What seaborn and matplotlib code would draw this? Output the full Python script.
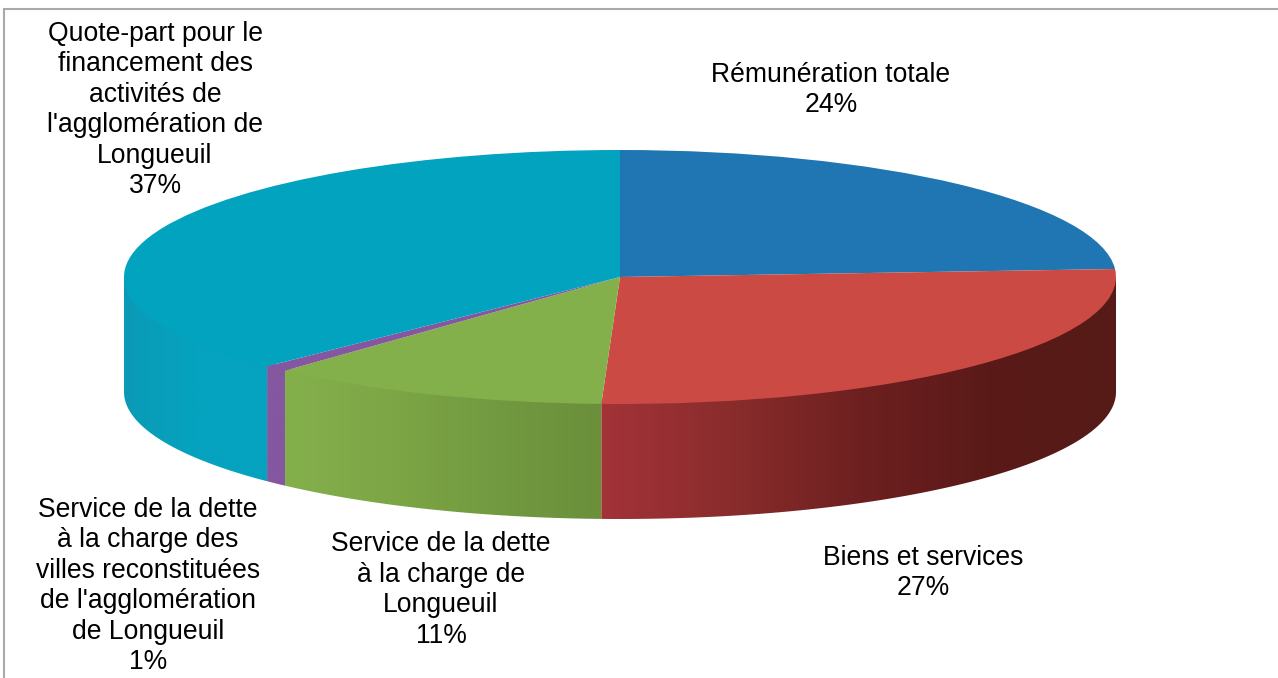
import numpy as np
import seaborn as sns
import matplotlib.pyplot as plt
from matplotlib.lines import Line2D
from matplotlib.patches import Polygon

# slices, clockwise from 12 o'clock
labels = ["Rémunération totale\n24%",
          "Biens et services\n27%",
          "Service de la dette\nà la charge de\nLongueuil\n11%",
          "Service de la dette\nà la charge des\nvilles reconstituées\nde l'agglomération\nde Longueuil\n1%",
          "Quote-part pour le\nfinancement des\nactivités de\nl'agglomération de\nLongueuil\n37%"]
values = [24, 26.6, 11.2, 0.8, 37.4]  # read from the slice edges, labels are rounded
top_colors = ["#2076B3", "#CB4A43", "#84B04C", "#8457A0", "#02A3BF"]
# side wall shading of each slice, left to right on screen
wall_colors = [["#2076B3", "#2076B3"],
               ["#A33338", "#8A2C2C", "#6E2020", "#5A1A18", "#561A17"],
               ["#84B04C", "#7DA646", "#729A40", "#6B8F3B"],
               ["#8457A0", "#8457A0"],
               ["#0B9AB6", "#05A3BF", "#05A3BF"]]
label_x = [831, 923, 441, 148, 155]
label_y = [90, 573, 590, 586, 110]

W, H = 1278, 678
cx, cy, rx, ry, depth = 620, 277, 496, 127, 115

sns.set_theme(style="white")
plt.rcParams['font.family'] = ['Liberation Sans', 'DejaVu Sans']

fig = plt.figure(figsize=(W / 100, H / 100), dpi=100, facecolor="white")
ax = fig.add_axes([0, 0, 1, 1])

ax.pie(values, colors=sns.color_palette(top_colors), startangle=90, counterclock=False,
       wedgeprops=dict(linewidth=0, zorder=5))

# side wall, only the front half of the ellipse shows
d = depth / ry
overlap = 0.03  # runs a bit under the top so no white shows along the rim
edges = np.cumsum([0] + values) / sum(values) * 360
for i in range(len(values)):
    a0, a1 = max(edges[i], 90), min(edges[i + 1], 270)
    if a1 <= a0:
        continue
    a = np.radians(np.linspace(a0, a1, 120))
    x, y = np.sin(a), np.cos(a)
    pts = np.r_[np.c_[x, y + overlap], np.c_[x, y - d][::-1]]
    cmap = sns.blend_palette(wall_colors[i], n_colors=256, as_cmap=True)
    im = ax.imshow(np.linspace(0, 1, 256)[None, :], cmap=cmap, aspect="auto", zorder=2,
                   extent=[x.min(), x.max(), (y - d).min(), y.max() + overlap], interpolation="bilinear")
    im.set_clip_path(Polygon(pts, transform=ax.transData))

ax.set_aspect("auto")
ax.set_xlim((0 - cx) / rx, (W - cx) / rx)
ax.set_ylim((cy - H) / ry, cy / ry)

for lab, x, y in zip(labels, label_x, label_y):
    fig.text(x / W, 1 - y / H, lab, ha="center", va="center", ma="center",
             fontsize=19.1, color="black", linespacing=1.225)

frame = "#A7AAAB"
fig.add_artist(Line2D([4 / W, 4 / W], [0, 1 - 9 / H], color=frame, lw=1.5))
fig.add_artist(Line2D([4 / W, 1], [1 - 9 / H, 1 - 9 / H], color=frame, lw=1.5))

fig.savefig("out.png", dpi=100)
